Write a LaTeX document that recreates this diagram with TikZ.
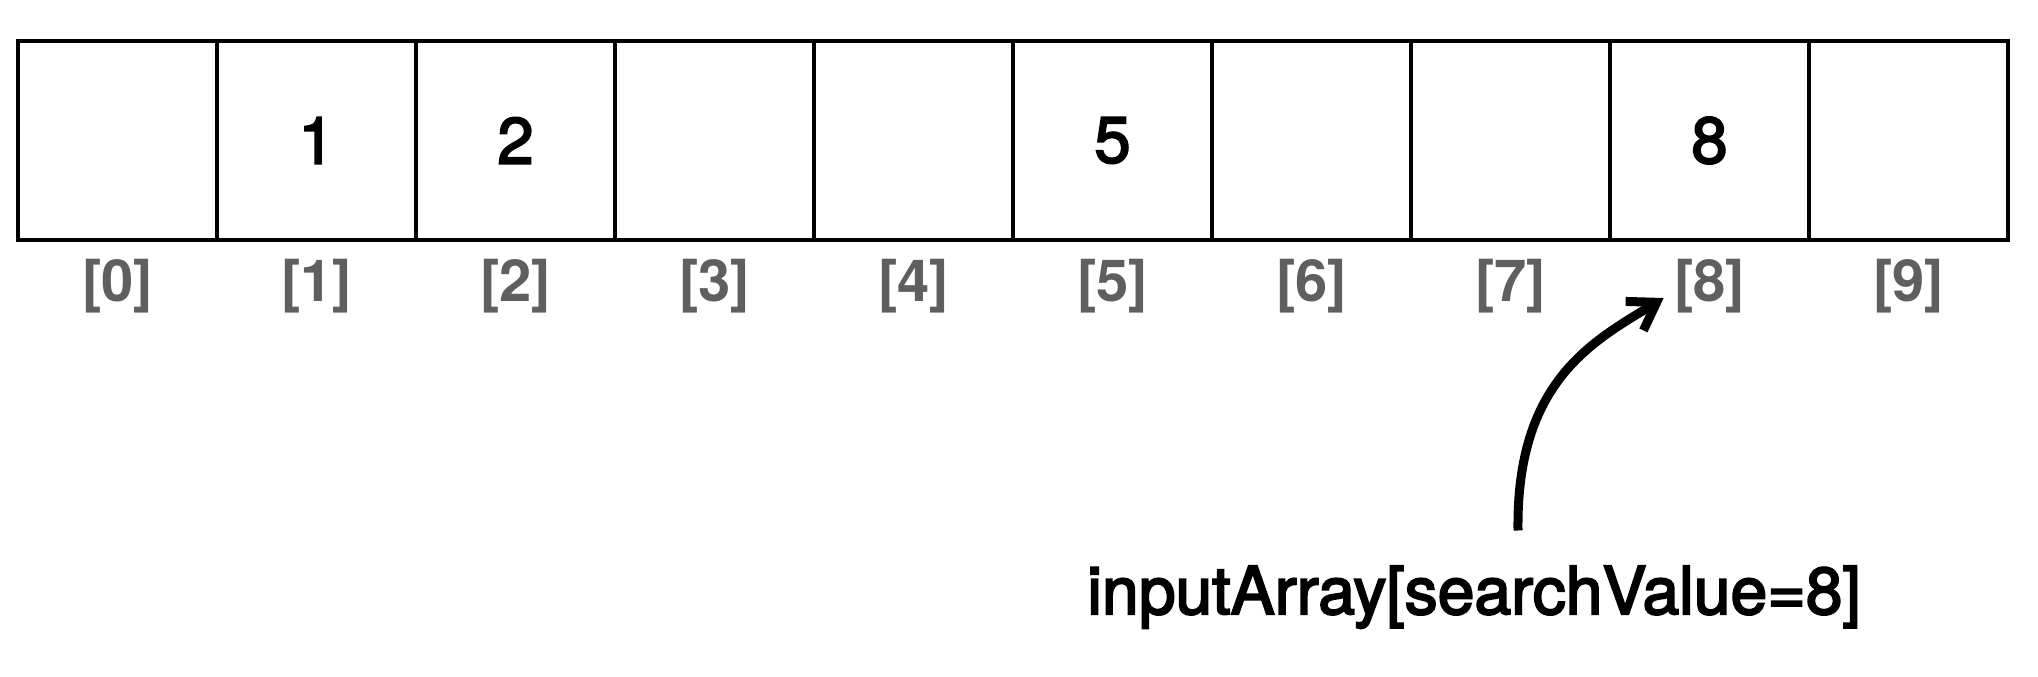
\documentclass[tikz,border=0pt]{standalone}
\usepackage{fontspec}
\setmainfont{TeX Gyre Heros}
\newfontfamily\medfont[FakeBold=3]{TeX Gyre Heros}
\usepackage{xcolor}
\usepackage{tikz}
\usetikzlibrary{positioning, calc, arrows.meta}

\definecolor{idxgray}{RGB}{95,95,95}

\begin{document}
\begin{tikzpicture}[x=0.5pt,y=0.5pt,yscale=-1,xscale=1,
  cell/.style={draw, line width=2.4pt, minimum width=99.5pt, minimum height=99.5pt, inner sep=0pt, outer sep=0pt, font=\medfont\fontsize{32.5}{39}\selectfont},
  idx/.style={anchor=base, inner sep=0pt, text=idxgray, font=\fontsize{29}{35}\selectfont\bfseries},
  pointer/.style={line width=4.5pt, -{Straight Barb[length=13pt, width=17pt]}}]
\path[use as bounding box] (0,0) rectangle (2038,676); %set diagram size

%Shape: Rectangle cells
\node [cell] (c0) at (117.5,140.5) {};
\node [cell] (c1) at (316.5,140.5) {1};
\node [cell] (c2) at (515.5,140.5) {2};
\node [cell] (c3) at (714.5,140.5) {};
\node [cell] (c4) at (913.5,140.5) {};
\node [cell] (c5) at (1112.5,140.5) {5};
\node [cell] (c6) at (1311.5,140.5) {};
\node [cell] (c7) at (1510.5,140.5) {};
\node [cell] (c8) at (1709.5,140.5) {8};
\node [cell] (c9) at (1908.5,140.5) {};

% Text Node indices
\node [idx] (idx0) at (117.5,301) {[0]};
\node [idx] (idx1) at (316.5,301) {[1]};
\node [idx] (idx2) at (515.5,301) {[2]};
\node [idx] (idx3) at (714.5,301) {[3]};
\node [idx] (idx4) at (913.5,301) {[4]};
\node [idx] (idx5) at (1112.5,301) {[5]};
\node [idx] (idx6) at (1311.5,301) {[6]};
\node [idx] (idx7) at (1510.5,301) {[7]};
\node [idx] (idx8) at (1709.5,301) {[8]};
\node [idx] (idx9) at (1908.5,301) {[9]};

% Text Node
\node [anchor=base, inner sep=0pt, font=\medfont\fontsize{33}{40}\selectfont] (query) at (1474,614) {inputArray[searchValue=8]};

%Curve
\coordinate (qtop) at ($(query.north)+(44,-35)$);
\draw [pointer] (qtop) .. controls ($(qtop)+(-2,-150)$) and ($(idx8.base west)+(-80,40)$) .. ($(idx8.base west)+(-10,-3)$);

\end{tikzpicture}
\end{document}
